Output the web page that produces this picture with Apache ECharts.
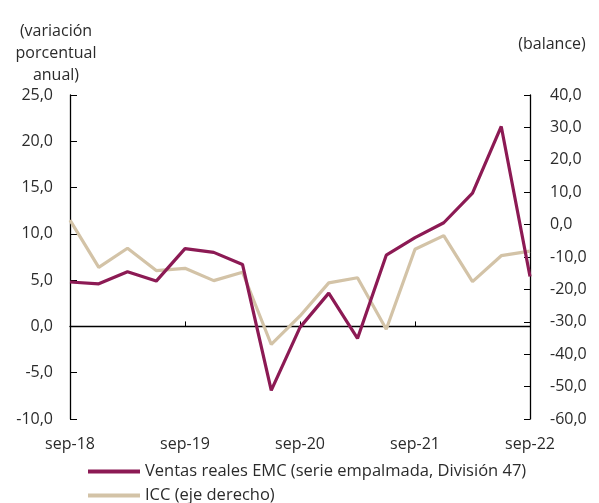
<!DOCTYPE html>
<html>
<head>
<meta charset="utf-8">
<script src="https://cdn.jsdelivr.net/npm/echarts@6/dist/echarts.min.js"></script>
<style>
  html, body { margin: 0; padding: 0; background: #fff; }
  #chart { width: 599px; height: 503px; }
</style>
</head>
<body>
<div id="chart"></div>
<script>
// trimestres sep-18 .. sep-22
var quarters = ['sep-18', 'dic-18', 'mar-19', 'jun-19', 'sep-19', 'dic-19', 'mar-20', 'jun-20',
  'sep-20', 'dic-20', 'mar-21', 'jun-21', 'sep-21', 'dic-21', 'mar-22', 'jun-22', 'sep-22'];
// variación porcentual anual (eje izquierdo)
var ventas = [4.8, 4.6, 5.9, 4.9, 8.4, 8.0, 6.7, -6.9, -0.1, 3.6, -1.3, 7.7, 9.6, 11.2, 14.4, 21.6, 5.4];
// balance (eje derecho)
var icc = [1.4, -13.2, -7.3, -14.2, -13.5, -17.3, -14.7, -37.0, -28.2, -18.0, -16.4, -32.3, -7.6, -3.4, -17.6, -9.6, -8.2];

var leftTicks = { min: -10, max: 25, interval: 5 };
var rightTicks = { min: -60, max: 40, interval: 10 };

var serieVentas = 'Ventas reales EMC (serie empalmada, División 47)';
var serieIcc = 'ICC (eje derecho)';

var txtColor = '#2b2b2b';
var fontFam = '"Open Sans", Lato, sans-serif';
function fmt(v) { return v.toFixed(1).replace('.', ','); }

function legendFor(name, top) {
  return {
    left: 83,
    top: top,
    icon: 'rect',
    itemWidth: 52,
    itemHeight: 4,
    itemGap: 0,
    textStyle: { color: txtColor, fontSize: 16.5, fontFamily: fontFam },
    data: [name]
  };
}

var chart = echarts.init(document.getElementById('chart'));
var option = {
  animation: false,
  color: ['#8c1a54', '#d3c3a7'],
  grid: { left: 70, right: 69, top: 95, bottom: 84 },
  legend: [legendFor(serieVentas, 458), legendFor(serieIcc, 482)],
  graphic: [
    { type: 'text', x: 56, y: 20, style: { text: '(variación\nporcentual\nanual)', align: 'center', textAlign: 'center', lineHeight: 22, fill: txtColor, font: '16px ' + fontFam } },
    { type: 'text', x: 552, y: 36, style: { text: '(balance)', align: 'center', textAlign: 'center', fill: txtColor, font: '16px ' + fontFam } }
  ],
  xAxis: [
    {
      type: 'category',
      data: quarters,
      boundaryGap: false,
      position: 'bottom',
      axisLine: { show: false },
      axisTick: { show: false },
      axisLabel: { interval: 3, margin: 17, color: txtColor, fontSize: 16, fontFamily: fontFam }
    },
    {
      type: 'category',
      data: quarters,
      boundaryGap: false,
      position: 'bottom',
      axisLine: { onZero: true, onZeroAxisIndex: 0, lineStyle: { color: '#000', width: 1.3 } },
      axisTick: { inside: true, interval: 3, length: 5, lineStyle: { color: '#000' } },
      axisLabel: { show: false }
    }
  ],
  yAxis: [
    {
      type: 'value',
      min: leftTicks.min, max: leftTicks.max, interval: leftTicks.interval,
      position: 'left',
      splitLine: { show: false },
      axisLine: { show: true, onZero: false, lineStyle: { color: '#000', width: 1.3 } },
      axisTick: { show: true, inside: true, length: 7, lineStyle: { color: '#000' } },
      axisLabel: { formatter: fmt, margin: 17, color: txtColor, fontSize: 16, fontFamily: fontFam }
    },
    {
      type: 'value',
      min: rightTicks.min, max: rightTicks.max, interval: rightTicks.interval,
      position: 'right',
      splitLine: { show: false },
      axisLine: { show: true, onZero: false, lineStyle: { color: '#000', width: 1.3 } },
      axisTick: { show: true, inside: true, length: 6, lineStyle: { color: '#000' } },
      axisLabel: { formatter: fmt, margin: 20, color: txtColor, fontSize: 16, fontFamily: fontFam }
    }
  ],
  series: [
    {
      name: serieVentas,
      type: 'line',
      data: ventas,
      xAxisIndex: 0,
      yAxisIndex: 0,
      symbol: 'none',
      lineStyle: { width: 3.2 },
      z: 3
    },
    {
      name: serieIcc,
      type: 'line',
      data: icc,
      xAxisIndex: 0,
      yAxisIndex: 1,
      symbol: 'none',
      lineStyle: { width: 3.2 },
      z: 2
    }
  ]
};
chart.setOption(option);
</script>
</body>
</html>
